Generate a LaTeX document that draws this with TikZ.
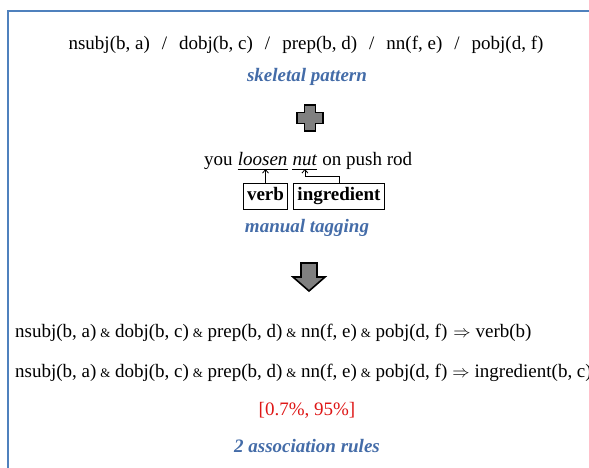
\documentclass[tikz,border=0pt]{standalone}
\usepackage{fontspec}
\setmainfont{Liberation Serif}
\usetikzlibrary{arrows.meta}

\definecolor{framecol}{RGB}{79,129,189}
\definecolor{capcol}{RGB}{68,108,168}
\definecolor{rulered}{RGB}{222,22,22}
\definecolor{shapegray}{RGB}{128,128,128}

% small ampersand joining the rule conditions
\newcommand\condand{\hspace{4pt}{\fontsize{13}{15}\selectfont\&}\hspace{4.5pt}}
\newcommand\slashsep{\hspace{12pt}/\hspace{12pt}}

\begin{document}
\begin{tikzpicture}[x=1pt,y=-1pt,
  txt/.style={font=\fontsize{19}{22}\selectfont, inner sep=0pt},
  caption/.style={font=\fontsize{19}{22}\selectfont\bfseries\itshape, text=capcol, inner sep=0pt},
  tagbox/.style={draw, line width=1pt, font=\fontsize{19}{22}\selectfont\bfseries,
    inner xsep=4pt, inner ysep=0pt, minimum height=26pt, text height=13pt, text depth=4pt},
  link/.style={-{Straight Barb[length=3.5pt,width=6pt]}, line width=0.8pt},
  block/.style={draw=black, line width=1.6pt, fill=shapegray, line join=miter}
]
\useasboundingbox (0,0) rectangle (589,467);
\clip (0,0) rectangle (589,467);

% outer frame (open to the right and bottom)
\draw[framecol, line width=2.6pt] (8,11) rectangle (640,520);

% skeletal pattern
\node[txt] (pattern) at (306,45)
  {nsubj(b, a)\slashsep dobj(b, c)\slashsep prep(b, d)\slashsep nn(f, e)\slashsep pobj(d, f)};
\node[caption] (patterncap) at (307,77) {skeletal pattern};

% plus sign
\draw[block] (304.5,105) -- (315.5,105) -- (315.5,112.5) -- (323,112.5) -- (323,123.5)
  -- (315.5,123.5) -- (315.5,131) -- (304.5,131) -- (304.5,123.5) -- (297,123.5)
  -- (297,112.5) -- (304.5,112.5) -- cycle;

% tagged sentence
\node[txt, anchor=base west] (you) at (204,165) {you};
\node[txt, anchor=base west] (loosen) at ([xshift=4.75pt]you.base east) {\textit{loosen}};
\node[txt, anchor=base west] (nut) at ([xshift=4.75pt]loosen.base east) {\textit{nut}};
\node[txt, anchor=base west] (rest) at ([xshift=4.75pt]nut.base east) {on push rod};
\coordinate (loosenL) at ([yshift=-4pt]loosen.base west);
\coordinate (loosenR) at ([yshift=-4pt]loosen.base east);
\coordinate (nutL) at ([yshift=-4pt]nut.base west);
\coordinate (nutR) at ([yshift=-4pt]nut.base east);
\coordinate (nutM) at ([yshift=-4pt]nut.base);
\draw[line width=0.8pt] (loosenL) -- (loosenR);
\draw[line width=0.8pt] (nutL) -- (nutR);

\node[tagbox] (verb) at (265.5,196) {verb};
\node[tagbox] (ingr) at (339,196) {ingredient};
\draw[link] (verb.north) -- (verb.north |- loosenL);
\draw[link] (ingr.north) -- ++(0,-6) -| (nutM);

\node[caption] (tagcap) at (307,228) {manual tagging};

% down arrow
\draw[block] (301,263) -- (317,263) -- (317,277) -- (325,277) -- (309,291)
  -- (293,277) -- (301,277) -- cycle;

% mined rules
\node[txt, anchor=west] (rule1) at (15,333)
  {nsubj(b, a)\condand dobj(b, c)\condand prep(b, d)\condand nn(f, e)\condand pobj(d, f)\hspace{6pt}$\Rightarrow$\hspace{5pt}verb(b)};
\node[txt, anchor=west] (rule2) at (15,373)
  {nsubj(b, a)\condand dobj(b, c)\condand prep(b, d)\condand nn(f, e)\condand pobj(d, f)\hspace{5pt}$\Rightarrow$\hspace{5pt}ingredient(b, c)};
\node[txt, text=rulered] (measure) at (307,410) {[0.7\%, 95\%]};
\node[caption] (rulecap) at (307,446) {2 association rules};
\end{tikzpicture}
\end{document}
